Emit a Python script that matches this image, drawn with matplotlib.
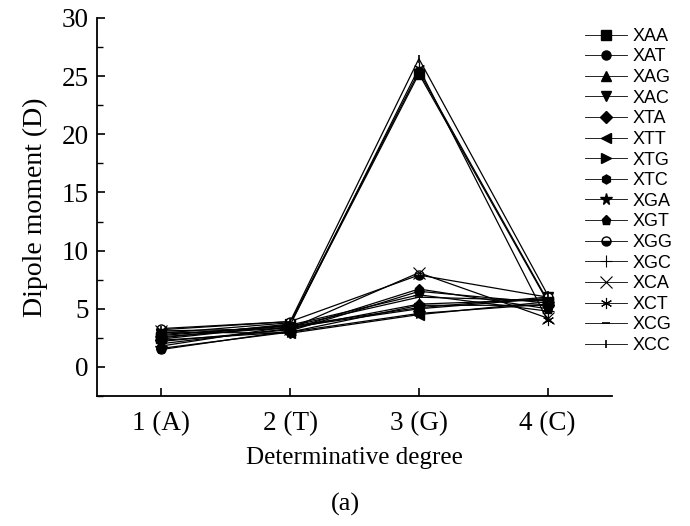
import matplotlib
matplotlib.use("Agg")
import matplotlib.pyplot as plt
from matplotlib.ticker import MultipleLocator

# positions 1..4 on the x axis
positions = [1, 2, 3, 4]
tick_labels = ["1 (A)", "2 (T)", "3 (G)", "4 (C)"]

names = ["XAA", "XAT", "XAG", "XAC", "XTA", "XTT", "XTG", "XTC",
         "XGA", "XGT", "XGG", "XGC", "XCA", "XCT", "XCG", "XCC"]

# dipole moment (D), one row per sequence
XAA = [2.5, 3.7, 25.2, 5.6]
XAT = [1.5, 3.1, 6.5, 5.5]
XAG = [2.0, 3.3, 5.4, 5.8]
XAC = [2.8, 3.5, 5.1, 6.0]
XTA = [2.3, 3.0, 5.3, 5.3]
XTT = [3.0, 2.9, 4.5, 5.6]
XTG = [2.6, 3.4, 5.0, 5.9]
XTC = [2.9, 3.8, 25.4, 5.7]
XGA = [1.6, 3.0, 4.6, 5.4]
XGT = [2.2, 3.2, 6.7, 5.0]
XGG = [3.3, 3.9, 7.9, 6.0]
XGC = [2.7, 3.6, 6.2, 4.8]
XCA = [3.1, 3.3, 8.1, 4.2]
XCT = [2.4, 3.6, 25.7, 4.0]
XCG = [1.8, 3.5, 6.0, 5.7]
XCC = [3.2, 3.9, 26.5, 6.2]
series = [XAA, XAT, XAG, XAC, XTA, XTT, XTG, XTC,
          XGA, XGT, XGG, XGC, XCA, XCT, XCG, XCC]

markers = ["s", "o", "^", "v", "D", "<", ">", "h",
           "*", "p", "o", "+", "x", (6, 2, 0), "_", "|"]

fig = plt.figure(figsize=(6.9, 5.26), dpi=100)
ax = fig.add_axes([0.1406, 0.2471, 0.7464, 0.7187])

for name, vals, m in zip(names, series, markers):
    kw = dict(color="black", lw=0.9, marker=m, markersize=6.5,
              markerfacecolor="black", markeredgecolor="black", label=name)
    if m == "D":
        kw["markersize"] = 6
    if m == "*":
        kw["markersize"] = 8.5
    if name == "XGG":
        kw.update(fillstyle="bottom", markerfacecoloralt="white")
    if m in ("+", "x", (6, 2, 0)):
        kw.update(markersize=8, markeredgewidth=0.8)
    if m in ("_", "|"):
        kw.update(markersize=6, markeredgewidth=1.2)
    ax.plot(positions, vals, **kw)

ax.set_xlim(0.5, 4.5)
ax.set_ylim(-2.5, 30)
ax.set_xticks(positions)
ax.set_xticklabels(tick_labels)
ax.yaxis.set_minor_locator(MultipleLocator(2.5))
ax.set_yticks([0, 5, 10, 15, 20, 25, 30])

for s in ("top", "right"):
    ax.spines[s].set_visible(False)
for s in ("left", "bottom"):
    ax.spines[s].set_linewidth(1.3)

ax.tick_params(direction="in", which="major", length=6, width=1.2,
               labelsize=19.5)
ax.tick_params(axis="x", pad=11)
ax.tick_params(axis="y", pad=6)
ax.tick_params(direction="in", which="minor", length=4, width=1.0)
for lab in ax.get_xticklabels() + ax.get_yticklabels():
    lab.set_fontfamily("Liberation Serif")

ax.set_xlabel("Determinative degree", fontsize=18, family="Liberation Serif",
              labelpad=8)
ax.set_ylabel("Dipole moment (D)", fontsize=20, family="Liberation Serif",
              labelpad=10)

leg = ax.legend(loc="upper left", bbox_to_anchor=(0.848, 0.947),
                bbox_transform=fig.transFigure, frameon=False,
                prop={"family": "Liberation Sans", "size": 13},
                handlelength=2.33, handletextpad=0.28, labelspacing=0.2,
                borderaxespad=0, borderpad=0)
for h in leg.legend_handles:
    h.set_linewidth(0.6)

fig.text(0.5, 0.03, "(a)", ha="center", fontsize=19, family="Liberation Serif")

fig.savefig("out.png", dpi=100)
